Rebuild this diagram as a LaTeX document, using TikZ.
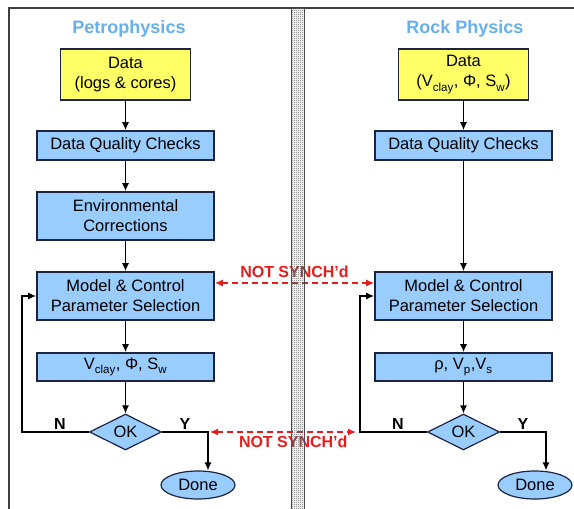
\documentclass[tikz,border=0pt]{standalone}
\usepackage{fontspec}
\setmainfont{Liberation Sans}
\usetikzlibrary{arrows.meta,calc,shapes.geometric,patterns}
\definecolor{boxblue}{RGB}{153,204,255}
\definecolor{boxline}{RGB}{28,36,66}
\definecolor{datayellow}{RGB}{255,255,102}
\definecolor{titleblue}{RGB}{102,176,238}
\definecolor{syncred}{RGB}{232,28,28}
\pgfdeclarepatternformonly{finechecker}{\pgfpointorigin}{\pgfqpoint{2pt}{2pt}}{\pgfqpoint{2pt}{2pt}}{%
  \pgfpathrectangle{\pgfpointorigin}{\pgfqpoint{1pt}{1pt}}%
  \pgfpathrectangle{\pgfqpoint{1pt}{1pt}}{\pgfqpoint{1pt}{1pt}}%
  \pgfusepath{fill}}
\newcommand{\lowsub}[1]{\raisebox{-0.25ex}{\textsubscript{#1}}}

\begin{document}
\begin{tikzpicture}[
  x=1pt,y=-1pt,
  >={Latex[length=8pt,width=7pt]},
  every node/.style={font=\fontsize{16.5}{20}\selectfont,inner sep=0pt},
  title/.style={font=\fontsize{18}{20}\selectfont\bfseries,text=titleblue},
  databox/.style={draw=boxline,line width=1.6pt,fill=datayellow,align=center,minimum width=130,minimum height=51},
  stepbox/.style={draw=boxline,line width=1.6pt,fill=boxblue,align=center,minimum width=177,minimum height=48},
  decision/.style={diamond,draw=boxline,line width=1.2pt,fill=boxblue,minimum width=72,minimum height=36},
  endbox/.style={ellipse,draw=boxline,line width=1.2pt,fill=boxblue,minimum width=74,minimum height=28},
  flow/.style={->,line width=1.3pt},
  sync/.style={<->,line width=1.3pt,syncred,dash pattern=on 6pt off 4pt},
  synctext/.style={font=\fontsize{16}{18}\selectfont\bfseries,text=syncred},
  answer/.style={font=\fontsize{16}{18}\selectfont\bfseries}
]
  \useasboundingbox (0,0) rectangle (574,509);

  % outer frame
  \draw[line width=1.4pt,black!75] (9,509) -- (9,8) -- (574,8);

  % petrophysics
  \node[title] (titleL) at (129,29) {Petrophysics};
  \node[databox] (dataL) at (125.5,74.5) {Data\\(logs \& cores)};
  \node[stepbox,minimum height=29] (dqcL) at (125.5,145.5) {Data Quality Checks};
  \node[stepbox] (envL) at (125.5,216) {Environmental\\Corrections};
  \node[stepbox] (modelL) at (125.5,296) {Model \& Control\\Parameter Selection};
  \node[stepbox,minimum height=28] (outL) at (125.5,367) {V\lowsub{clay}, Φ, S\lowsub{w}};
  \node[decision] (okL) at (125.5,432) {OK};
  \node[endbox] (doneL) at (198,485) {Done};
  \node[answer] (noL) at (60,424) {N};
  \node[answer] (yesL) at (185,424) {Y};
  \coordinate (loopL) at (22,432);
  \coordinate (cornerL) at (208,432);

  \draw[flow] (dataL) -- (dqcL);
  \draw[flow] (dqcL) -- (envL);
  \draw[flow] (envL) -- (modelL);
  \draw[flow] (modelL) -- (outL);
  \draw[flow] (outL) -- (okL);
  \draw[flow] (okL.west) -- (loopL) |- (modelL.west);
  \draw[flow] (okL.east) -- (cornerL) -- (cornerL |- doneL.north);

  % rock physics
  \node[title] (titleR) at (465,29) {Rock Physics};
  \node[databox] (dataR) at (463.5,74.5) {Data\\(V\lowsub{clay}, Φ, S\lowsub{w})};
  \node[stepbox,minimum height=29] (dqcR) at (463.5,145.5) {Data Quality Checks};
  \node[stepbox] (modelR) at (463.5,296) {Model \& Control\\Parameter Selection};
  \node[stepbox,minimum height=28] (outR) at (463.5,367) {ρ, V\lowsub{p},V\lowsub{s}};
  \node[decision] (okR) at (463.5,432) {OK};
  \node[endbox] (doneR) at (535,485) {Done};
  \node[answer] (noR) at (398,424) {N};
  \node[answer] (yesR) at (523,424) {Y};
  \coordinate (loopR) at (360,432);
  \coordinate (cornerR) at (546,432);

  \draw[flow] (dataR) -- (dqcR);
  \draw[flow] (dqcR) -- (modelR);
  \draw[flow] (modelR) -- (outR);
  \draw[flow] (outR) -- (okR);
  \draw[flow] (okR.west) -- (loopR) |- (modelR.west);
  \draw[flow] (okR.east) -- (cornerR) -- (cornerR |- doneR.north);

  % links between the two sides
  \draw[sync] ([yshift=13pt]modelL.east) -- node[synctext,above=5pt] (syncTop) {NOT SYNCH'd} ([yshift=13pt]modelR.west);
  \draw[sync] ([xshift=2pt]cornerL) -- node[synctext,below=3pt,pos=0.57] (syncBottom) {NOT SYNCH'd} ([xshift=-4pt]loopR);

  % divider
  \fill[pattern=finechecker,pattern color=black!60] (291,8) rectangle (304,509);
  \draw[line width=1pt,black!70] (291,8) -- (291,509) (304,8) -- (304,509);
\end{tikzpicture}
\end{document}
